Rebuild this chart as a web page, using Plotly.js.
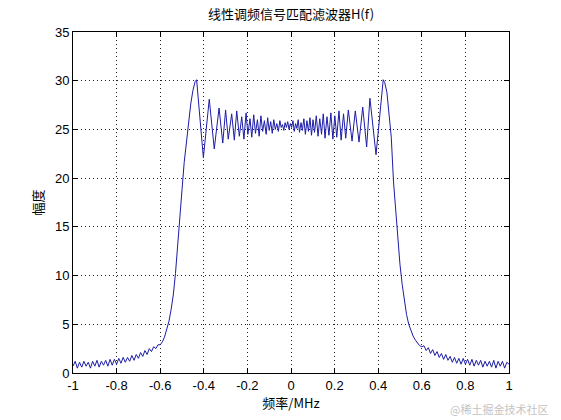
<!DOCTYPE html>
<html>
<head>
<meta charset="utf-8">
<script src="https://cdn.plot.ly/plotly-3.0.1.min.js"></script>
<style>html,body{margin:0;padding:0;background:#fff;}#plot{width:561px;height:420px;}</style>
</head>
<body>
<div id="plot"></div>
<script>
// Frequency (MHz)
const freq = [
 -1.00,-0.99,-0.98,-0.97,-0.96,-0.95,-0.94,-0.93,-0.92,-0.91,
 -0.90,-0.89,-0.88,-0.87,-0.86,-0.85,-0.84,-0.83,-0.82,-0.81,
 -0.80,-0.79,-0.78,-0.77,-0.76,-0.75,-0.74,-0.73,-0.72,-0.71,
 -0.70,-0.69,-0.68,-0.67,-0.66,-0.65,-0.64,-0.63,-0.62,-0.61,
 -0.60,-0.59,-0.58,-0.57,-0.56,-0.55,-0.54,-0.53,-0.52,-0.51,
 -0.50,-0.49,-0.48,-0.47,-0.46,-0.45,-0.44,
 -0.433,-0.402,-0.375,-0.352,-0.330,-0.313,-0.300,-0.288,-0.272,-0.260,
 -0.249,-0.237,-0.226,-0.216,-0.206,-0.198,-0.188,-0.180,-0.171,-0.163,
 -0.154,-0.146,-0.138,-0.130,-0.122,-0.114,-0.107,-0.100,-0.093,-0.086,
 -0.079,-0.072,-0.065,-0.058,-0.051,-0.045,-0.039,-0.033,-0.027,-0.021,
 -0.015,-0.009,-0.003,
 0.003,0.009,0.015,0.021,0.027,0.033,0.039,0.046,0.052,0.059,
 0.066,0.073,0.080,0.087,0.094,0.101,0.108,0.116,0.124,0.132,
 0.140,0.148,0.156,0.165,0.174,0.183,0.192,0.201,0.210,0.220,
 0.230,0.241,0.251,0.263,0.280,0.295,0.312,0.329,0.347,0.362,
 0.390,0.423,
 0.43,0.44,0.45,0.46,0.47,0.48,0.49,0.50,0.51,0.52,
 0.53,0.54,0.55,0.56,0.57,0.58,0.59,0.60,
 0.61,0.62,0.63,0.64,0.65,0.66,0.67,0.68,0.69,0.70,
 0.71,0.72,0.73,0.74,0.75,0.76,0.77,0.78,0.79,0.80,
 0.81,0.82,0.83,0.84,0.85,0.86,0.87,0.88,0.89,0.90,
 0.91,0.92,0.93,0.94,0.95,0.96,0.97,0.98,0.99,1.00
];
// Amplitude of H(f)
const amp = [
 0.7,1.2,0.5,1.1,0.6,1.2,0.7,1.1,0.5,1.2,
 0.7,1.3,0.6,1.2,0.8,1.3,0.7,1.4,0.8,1.4,
 0.9,1.5,1.0,1.6,1.1,1.6,1.2,1.8,1.3,1.9,
 1.5,2.1,1.7,2.3,1.9,2.5,2.2,2.7,2.5,2.9,
 2.9,3.2,3.7,4.4,5.3,6.5,8.0,10.2,12.8,15.6,
 18.8,21.6,23.8,25.8,27.6,29.0,29.9,
 30.1,22.1,28.1,23.0,27.2,23.6,27.0,24.0,26.6,23.9,
 26.9,24.3,26.3,24.0,26.7,24.5,26.1,24.2,26.5,24.6,
 26.0,24.3,26.4,24.8,25.9,24.5,26.2,24.9,25.8,24.6,
 26.0,25.0,25.6,24.8,25.9,25.2,25.5,24.9,25.7,25.2,
 25.8,25.0,25.6,
 25.2,25.9,24.8,25.6,25.1,26.0,24.7,25.7,24.9,26.1,
 24.5,25.9,24.8,26.2,24.4,26.0,24.7,26.4,24.3,26.1,
 24.5,26.6,24.1,26.3,24.4,26.7,24.0,26.4,24.2,26.9,
 23.9,26.6,24.1,27.0,23.8,26.9,23.7,27.3,23.2,28.2,
 22.4,30.1,
 29.8,28.8,26.8,24.2,19.7,16.6,13.6,11.1,9.1,7.4,
 6.0,5.0,4.3,3.8,3.4,3.1,2.8,2.7,
 2.8,2.3,2.6,2.0,2.4,1.8,2.2,1.6,2.0,1.4,
 1.9,1.3,1.7,1.1,1.6,1.0,1.5,0.9,1.5,0.9,
 1.4,0.8,1.4,0.7,1.3,0.8,1.3,0.6,1.2,0.7,
 1.2,0.6,1.3,0.5,1.2,0.7,1.2,0.5,1.1,0.9
];
const xTickVals = [-1,-0.8,-0.6,-0.4,-0.2,0,0.2,0.4,0.6,0.8,1];
const xTickText = ['-1','-0.8','-0.6','-0.4','-0.2','0','0.2','0.4','0.6','0.8','1'];
const yTickVals = [0,5,10,15,20,25,30,35];
const yTickText = ['0','5','10','15','20','25','30','35'];

const trace = {
  x: freq, y: amp, type: 'scatter', mode: 'lines',
  line: {color: '#1c1ca8', width: 1}, hoverinfo: 'skip'
};
const axisCommon = {
  showline: true, mirror: 'ticks', linecolor: '#000', linewidth: 1,
  ticks: 'inside', ticklen: 5, tickcolor: '#000',
  showgrid: true, gridcolor: '#222', griddash: '1px,3px', gridwidth: 1,
  zeroline: false, tickfont: {family: 'Liberation Sans, Arial, sans-serif', size: 13, color: '#000'}
};
const layout = {
  width: 561, height: 420,
  margin: {l: 73, r: 52, t: 32, b: 47},
  paper_bgcolor: '#fff', plot_bgcolor: '#fff',
  showlegend: false,
  title: {text: '线性调频信号匹配滤波器H(f)', font: {family: 'Noto Sans CJK SC, sans-serif', size: 13, color: '#000'},
          xref: 'paper', x: 0.5, xanchor: 'center', yref: 'container', y: 0.965, yanchor: 'middle'},
  xaxis: Object.assign({}, axisCommon, {range: [-1, 1], tickvals: xTickVals, ticktext: xTickText,
          title: {text: '频率/MHz', font: {family: 'Noto Sans CJK SC, sans-serif', size: 13, color: '#000'}, standoff: 2}}),
  yaxis: Object.assign({}, axisCommon, {range: [0, 35], tickvals: yTickVals, ticktext: yTickText,
          title: {text: '幅度', font: {family: 'Noto Sans CJK SC, sans-serif', size: 13, color: '#000'}, standoff: 8}}),
  annotations: [{
    text: '@稀土掘金技术社区', xref: 'paper', yref: 'paper', x: 1.095, y: -0.105,
    xanchor: 'right', yanchor: 'middle', showarrow: false,
    font: {family: 'Noto Sans CJK SC, sans-serif', size: 11, color: '#c4c4c4'}
  }]
};
Plotly.newPlot('plot', [trace], layout, {staticPlot: true, displayModeBar: false});
</script>
</body>
</html>
